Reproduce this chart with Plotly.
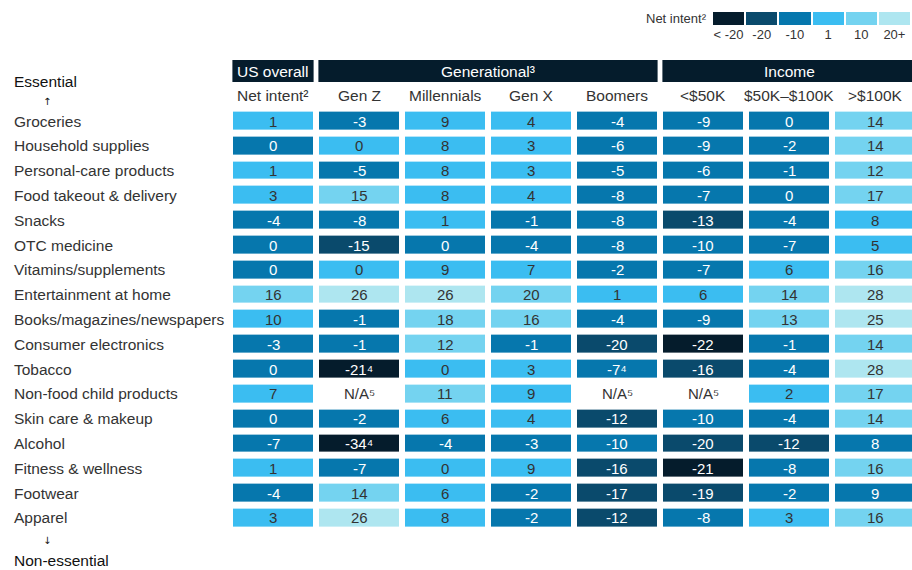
import plotly.graph_objects as go

# Rows (essential -> non-essential) and columns
categories = [
    "Groceries", "Household supplies", "Personal-care products",
    "Food takeout & delivery", "Snacks", "OTC medicine",
    "Vitamins/supplements", "Entertainment at home",
    "Books/magazines/newspapers", "Consumer electronics", "Tobacco",
    "Non-food child products", "Skin care & makeup", "Alcohol",
    "Fitness & wellness", "Footwear", "Apparel",
]
columns = ["Net intent²", "Gen Z", "Millennials", "Gen X", "Boomers",
           "<$50K", "$50K–$100K", ">$100K"]
groups = [("US overall", 0, 0), ("Generational³", 1, 4), ("Income", 5, 7)]

# Cell labels as printed
values = [
    ["1", "-3", "9", "4", "-4", "-9", "0", "14"],
    ["0", "0", "8", "3", "-6", "-9", "-2", "14"],
    ["1", "-5", "8", "3", "-5", "-6", "-1", "12"],
    ["3", "15", "8", "4", "-8", "-7", "0", "17"],
    ["-4", "-8", "1", "-1", "-8", "-13", "-4", "8"],
    ["0", "-15", "0", "-4", "-8", "-10", "-7", "5"],
    ["0", "0", "9", "7", "-2", "-7", "6", "16"],
    ["16", "26", "26", "20", "1", "6", "14", "28"],
    ["10", "-1", "18", "16", "-4", "-9", "13", "25"],
    ["-3", "-1", "12", "-1", "-20", "-22", "-1", "14"],
    ["0", "-21⁴", "0", "3", "-7⁴", "-16", "-4", "28"],
    ["7", "N/A⁵", "11", "9", "N/A⁵", "N/A⁵", "2", "17"],
    ["0", "-2", "6", "4", "-12", "-10", "-4", "14"],
    ["-7", "-34⁴", "-4", "-3", "-10", "-20", "-12", "8"],
    ["1", "-7", "0", "9", "-16", "-21", "-8", "16"],
    ["-4", "14", "6", "-2", "-17", "-19", "-2", "9"],
    ["3", "26", "8", "-2", "-12", "-8", "3", "16"],
]

# Colour bin shown for each cell (0 = < -20 ... 5 = 20+), None = no fill
bins = [
    [3, 2, 3, 3, 2, 2, 2, 4],
    [2, 3, 3, 3, 2, 2, 2, 4],
    [3, 2, 3, 3, 2, 2, 2, 4],
    [3, 4, 3, 3, 2, 2, 2, 4],
    [2, 2, 3, 2, 2, 1, 2, 3],
    [2, 1, 2, 2, 2, 2, 2, 3],
    [2, 3, 3, 3, 2, 2, 3, 4],
    [4, 5, 5, 4, 3, 3, 4, 5],
    [3, 2, 4, 4, 2, 2, 4, 5],
    [2, 2, 4, 2, 1, 0, 2, 4],
    [2, 0, 3, 3, 2, 1, 2, 5],
    [3, None, 4, 3, None, None, 3, 4],
    [2, 2, 3, 3, 1, 2, 2, 4],
    [2, 0, 2, 2, 2, 1, 1, 2],
    [3, 2, 3, 3, 1, 0, 2, 4],
    [2, 4, 3, 2, 1, 1, 2, 2],
    [3, 5, 3, 2, 1, 2, 3, 4],
]
legend_labels = ["< -20", "-20", "-10", "1", "10", "20+"]
legend_bins = [0, 1, 2, 3, 4, 5]

PALETTE = ["#051c2c", "#0a4a6c", "#0677ad", "#3bbdf1", "#74d3f0", "#aee6f0"]
NAVY = "#051c2c"
TEXT = "#333333"
FONT = "Liberation Sans, Arial, sans-serif"
ARROW_FONT = "DejaVu Sans, sans-serif"

W, H = 912, 570


def px_x(p):
    return p / W


def px_y(p):
    return (H - p) / H


colorscale = []
for i, c in enumerate(PALETTE):
    colorscale += [[i / 6, c], [(i + 1) / 6, c]]

grid_left, grid_right = 230, 912
grid_top, grid_bottom = 108.6, 530.4
col_pitch = 86  # last column runs off the right edge, as in the original
x_max = -0.5 + (grid_right - grid_left) / col_pitch
gap = 3 / col_pitch  # half-gap in data units

fig = go.Figure()
fig.add_trace(go.Heatmap(
    z=bins, x=columns, y=categories,
    colorscale=colorscale, zmin=-0.5, zmax=5.5, showscale=False,
    xgap=6, ygap=7, hoverinfo="skip",
))
fig.add_trace(go.Heatmap(
    z=[legend_bins], x=legend_labels, y=["legend"],
    colorscale=colorscale, zmin=-0.5, zmax=5.5, showscale=False,
    xgap=2, ygap=0, hoverinfo="skip", xaxis="x2", yaxis="y2",
))

annotations = []
for r, row in enumerate(values):
    for c, txt in enumerate(row):
        b = bins[r][c]
        annotations.append(dict(
            x=columns[c], y=categories[r], text=txt, showarrow=False,
            xanchor="center", yanchor="middle",
            font=dict(size=15, family=FONT,
                      color="white" if b is not None and b <= 2 else TEXT),
        ))

for cat in categories:
    annotations.append(dict(
        x=px_x(12), xref="paper", y=cat, yref="y", text=cat,
        xanchor="left", yanchor="middle", showarrow=False,
        font=dict(size=15.5, family=FONT, color=TEXT),
    ))

for i, col in enumerate(columns):
    annotations.append(dict(
        x=i, y=px_y(96), yref="paper", text=col, showarrow=False,
        xanchor="center", yanchor="middle",
        font=dict(size=15.5, family=FONT, color=TEXT),
    ))

shapes = []
for name, a, b in groups:
    shapes.append(dict(
        type="rect", xref="x", yref="paper",
        x0=a - 0.5 + gap * 0.8, x1=min(b + 0.5 - gap * 0.8, x_max),
        y0=px_y(82), y1=px_y(60),
        fillcolor=NAVY, line_width=0, layer="above",
    ))
    annotations.append(dict(
        x=(a + b) / 2, y=px_y(71), yref="paper", text=name,
        xanchor="center", yanchor="middle",
        showarrow=False, font=dict(size=15.5, family=FONT, color="white"),
    ))

side = [("Essential", 81, 12, FONT, 15.5), ("↑", 101, 41, ARROW_FONT, 10),
        ("↓", 540, 41, ARROW_FONT, 10), ("Non-essential", 560, 12, FONT, 15.5)]
for txt, py, px_, fam, size in side:
    annotations.append(dict(
        x=px_x(px_), xref="paper", y=px_y(py), yref="paper", text=txt,
        xanchor="left", yanchor="middle", showarrow=False,
        font=dict(size=size, family=fam, color="#111111"),
    ))

annotations.append(dict(
    x=px_x(709), xref="paper", y=px_y(19), yref="paper",
    text="Net intent²", xanchor="right", yanchor="middle", showarrow=False,
    font=dict(size=13, family=FONT, color=TEXT),
))

fig.update_layout(
    width=W, height=H,
    margin=dict(l=0, r=0, t=0, b=0),
    plot_bgcolor="white", paper_bgcolor="white",
    xaxis=dict(visible=False, domain=[px_x(grid_left), px_x(grid_right)],
               range=[-0.5, x_max]),
    yaxis=dict(visible=False, autorange="reversed",
               domain=[px_y(grid_bottom), px_y(grid_top)]),
    xaxis2=dict(domain=[px_x(712), px_x(911)], anchor="y2",
                showgrid=False, zeroline=False, showline=False, ticks="",
                tickfont=dict(size=13, color=TEXT, family=FONT)),
    yaxis2=dict(domain=[px_y(25), px_y(12)], anchor="x2", visible=False),
    annotations=annotations, shapes=shapes,
    font=dict(family=FONT, color=TEXT),
    showlegend=False,
)

# drop the default page margin so the figure sits at the top-left corner
fig.write_html(
    "out.html",
    config={"displayModeBar": False},
    post_script="document.body.style.margin='0';"
                "document.documentElement.style.overflow='hidden';",
)
